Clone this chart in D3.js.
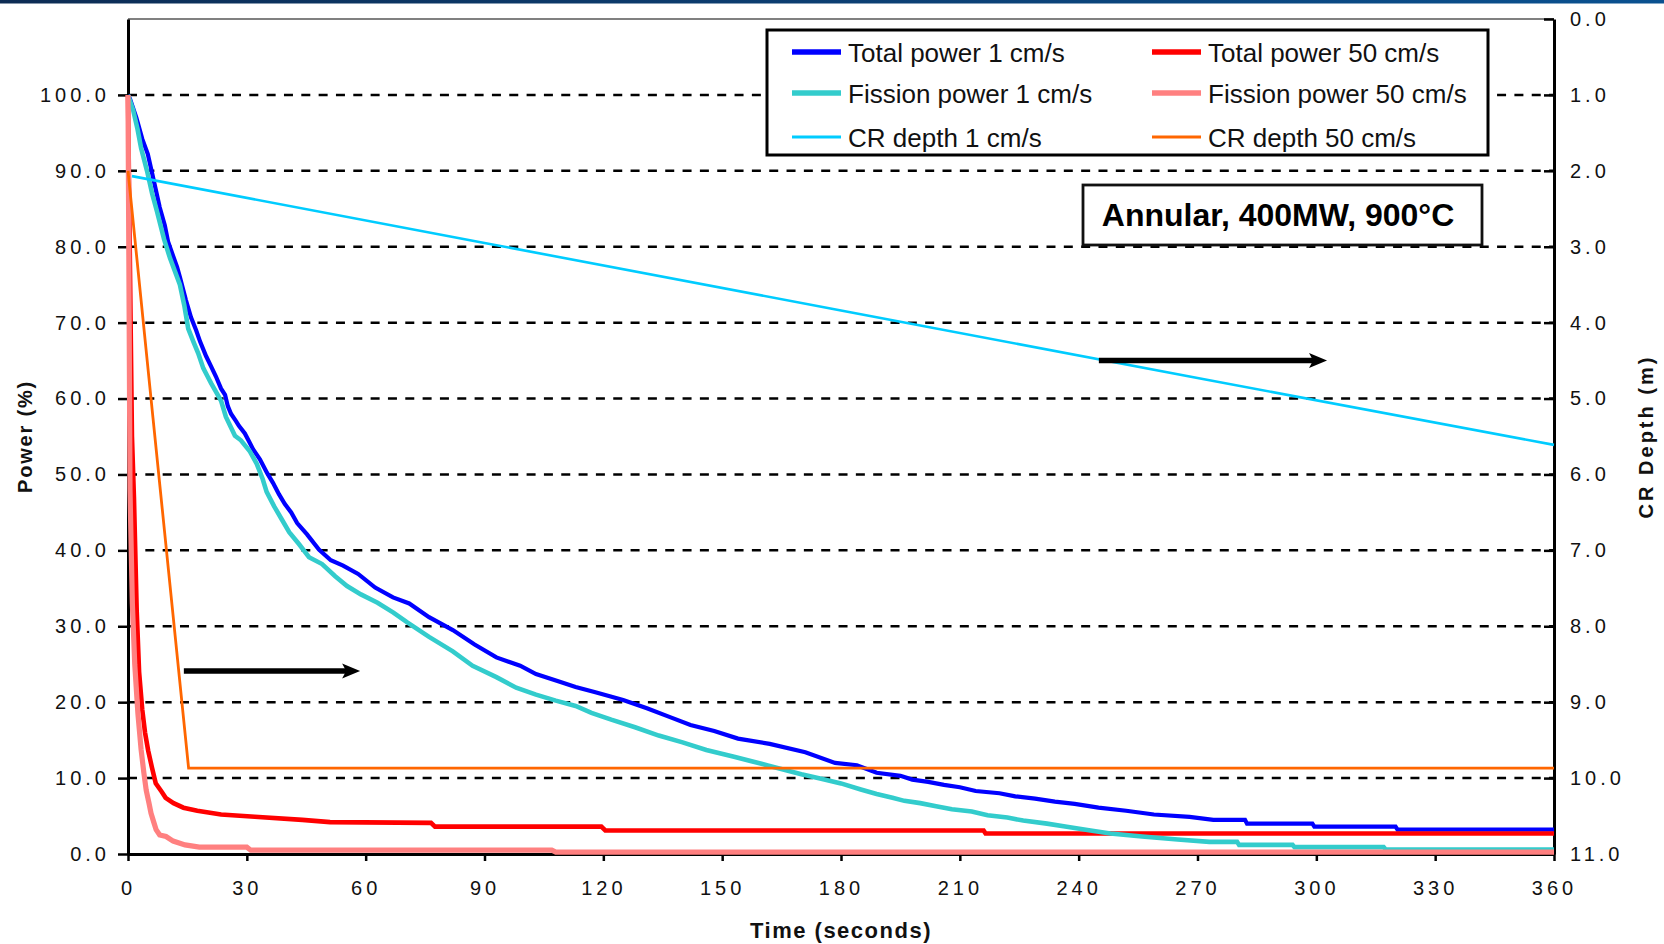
<!DOCTYPE html>
<html>
<head>
<meta charset="utf-8">
<script src="https://cdn.jsdelivr.net/npm/d3@7"></script>
<style>
  html, body { margin: 0; padding: 0; background: #fff; }
  svg { display: block; }
  text { font-family: "Liberation Sans", Arial, Helvetica, sans-serif; }
</style>
</head>
<body>
<svg id="chart" width="1664" height="944"></svg>
<script>
// ---- data: [time (s), value] ----
// Power curves in % (left axis), control-rod depth in m (right axis)
const totalPower1 = [
  [0,100],[0.5,99.5],[2.1,97],[3.6,94.2],[5.0,92.2],[6.6,88.5],[8.0,85.2],[9.3,82.8],
  [10.1,80.7],[10.9,79.5],[12.4,77.3],[13.1,76],[14.6,73],[15.9,70.7],[17.2,69.0],
  [18.2,67.5],[19.7,65.6],[21.0,64.2],[22.2,62.9],[23.5,61.3],[24.5,60.5],[25.2,59.0],
  [26.0,58.0],[27.3,57.0],[28.0,56.4],[29.5,55.4],[30.6,54.3],[31.6,53.3],[33.3,52.0],
  [35.1,50.2],[36.6,48.9],[38.1,47.4],[39.6,46.1],[41.2,45.0],[42.7,43.6],[45.2,42.1],
  [48.2,40.1],[51.2,38.7],[54.3,38.0],[58.1,36.9],[62.4,35.1],[66.9,33.8],[71,33.0],
  [76,31.2],[82,29.5],[87.5,27.6],[93,25.9],[99,24.8],[103,23.7],[109,22.7],[113,22.0],
  [118,21.3],[125,20.3],[131,19.2],[137,18.0],[142,17.0],[148,16.2],[154,15.2],[162,14.5],
  [171,13.4],[178.5,12.0],[184,11.7],[189,10.7],[195,10.3],[198,9.8],[202,9.5],[206,9.1],
  [210,8.8],[214,8.3],[220,8.0],[224,7.6],[229,7.3],[234,6.9],[239,6.6],[245,6.1],
  [252,5.7],[259,5.2],[268,4.9],[274,4.5],[282,4.5],[282.5,4.0],[299,4.0],[299.5,3.6],
  [320,3.6],[320.5,3.2],[360,3.2]
];
const fissionPower1 = [
  [0,100],[1.3,98],[2.4,95.5],[3.3,93],[4.8,90],[6.1,87],[7.3,84.7],[9.1,81],[10.6,78.5],
  [13.1,75],[14.2,72.3],[15.2,69.2],[16.5,67.5],[17.7,66],[19,64],[20,63],[21,62],
  [22.4,60.7],[23.5,59.7],[24.7,57.6],[27,55.1],[28.5,54.5],[30.7,53.1],[32.5,51.4],
  [34,49.4],[35,47.7],[36.9,45.8],[38.8,44.1],[40.7,42.4],[43.2,40.8],[45.7,39.1],
  [49,38.2],[52.3,36.6],[55.3,35.3],[58.8,34.2],[63,33.1],[67,31.8],[70.5,30.5],
  [76,28.6],[82,26.7],[87,24.8],[93,23.3],[98,21.9],[103,21],[108,20.2],[113,19.5],
  [117,18.6],[122,17.7],[128,16.7],[134,15.6],[140,14.7],[146,13.7],[153,12.8],
  [162,11.6],[170,10.5],[175,9.9],[180,9.3],[185,8.5],[189,7.9],[193,7.4],[196,7.0],
  [200,6.7],[204,6.3],[208,5.9],[213,5.6],[217,5.1],[222,4.8],[226,4.4],[232,4.0],
  [237,3.6],[243,3.1],[248,2.7],[256,2.3],[265,1.9],[273,1.6],[280,1.6],[280.5,1.2],
  [294,1.2],[294.5,0.9],[317,0.9],[317.5,0.6],[360,0.6]
];
const totalPower50 = [
  [0,100],[0.5,77],[1.0,55],[1.5,47],[2.2,32],[2.8,24],[3.6,19],[4.3,16],[5.1,13.6],
  [6.0,11.5],[7.0,9.3],[8.5,8.2],[9.5,7.4],[11.5,6.7],[14,6.1],[17.5,5.7],[23.5,5.2],
  [32,4.9],[44,4.5],[51,4.2],[76.5,4.1],[77.5,3.6],[119.5,3.6],[120.5,3.1],[216,3.1],
  [216.5,2.7],[360,2.7]
];
const fissionPower50 = [
  [0,100],[0.3,70],[0.5,48],[1.1,33],[1.7,25],[2.5,18.5],[3.3,13.8],[4.0,10.7],[4.6,8.4],
  [5.3,6.7],[5.8,5.4],[6.5,4.2],[7.1,3.2],[8.0,2.5],[9.6,2.3],[11.4,1.7],[14.4,1.2],
  [18,0.9],[30,0.9],[31,0.5],[107,0.5],[108,0.25],[360,0.25]
];
const crDepth1 = [[1,2.07],[90,2.95],[180,3.84],[270,4.73],[360,5.61]];
const crDepth50 = [[0,2.0],[6.3,5.25],[15.3,9.87],[360,9.87]];

// axis ticks
const timeTicks = [0,30,60,90,120,150,180,210,240,270,300,330,360];
const powerTicks = [0,10,20,30,40,50,60,70,80,90,100];
const depthTicks = [0,1,2,3,4,5,6,7,8,9,10,11];

// arrows pointing at the right-hand axis: [t0, t1, value]
const arrowsLeft = [[14.1, 58.6, 24.1]];   // in power units
const arrowsRight = [[245.1, 302.7, 4.5]]; // in depth units

const series = [
  { name: "Total power 1 cm/s",    data: totalPower1,    axis: "P", color: "#0000FF", width: 4.2, col: 0, row: 0 },
  { name: "Total power 50 cm/s",   data: totalPower50,   axis: "P", color: "#FF0000", width: 4.6, col: 1, row: 0 },
  { name: "Fission power 1 cm/s",  data: fissionPower1,  axis: "P", color: "#33CCCC", width: 4.6, col: 0, row: 1 },
  { name: "Fission power 50 cm/s", data: fissionPower50, axis: "P", color: "#FF8080", width: 5.2, col: 1, row: 1 },
  { name: "CR depth 1 cm/s",       data: crDepth1,       axis: "D", color: "#00CCFF", width: 2.6, col: 0, row: 2 },
  { name: "CR depth 50 cm/s",      data: crDepth50,      axis: "D", color: "#FF6600", width: 2.8, col: 1, row: 2 }
];

// ---- layout ----
const plot = { left: 128, right: 1554, top: 19, bottom: 854 };
const svg = d3.select("#chart");

const x = d3.scaleLinear().domain([0, 360]).range([plot.left, plot.right]);
const yP = d3.scaleLinear().domain([0, 110]).range([plot.bottom, plot.top]);
const yD = d3.scaleLinear().domain([0, 11]).range([plot.top, plot.bottom]);

// navy band along the top edge
const defs = svg.append("defs");
const grad = defs.append("linearGradient").attr("id", "band").attr("x1", "0").attr("x2", "1");
grad.append("stop").attr("offset", "0").attr("stop-color", "#0d2c54");
grad.append("stop").attr("offset", "1").attr("stop-color", "#0a5190");
svg.append("rect").attr("x", 0).attr("y", 0).attr("width", 1664).attr("height", 3.5)
  .attr("fill", "url(#band)");

// dashed horizontal gridlines
svg.append("g").selectAll("line")
  .data(powerTicks.filter(v => v > 0))
  .join("line")
  .attr("x1", plot.left).attr("x2", plot.right)
  .attr("y1", d => yP(d)).attr("y2", d => yP(d))
  .attr("stroke", "#000").attr("stroke-width", 2.5)
  .attr("stroke-dasharray", "9,8.33");

// grey top border of the plot area
svg.append("line")
  .attr("x1", plot.left).attr("x2", plot.right)
  .attr("y1", plot.top).attr("y2", plot.top)
  .attr("stroke", "#808080").attr("stroke-width", 2);

// ---- axes ----
const tickFont = g => g.selectAll("text")
  .attr("font-size", 20).attr("fill", "#111")
  .attr("letter-spacing", 4)
  .style("font-family", '"Liberation Sans", Arial, sans-serif');
const axisStyle = g => {
  g.select(".domain").attr("stroke", "#000").attr("stroke-width", 3);
  g.selectAll(".tick line").attr("stroke", "#000").attr("stroke-width", 2.5);
};

svg.append("g")
  .attr("transform", `translate(${plot.left},0)`)
  .call(d3.axisLeft(yP).tickValues(powerTicks).tickFormat(d3.format(".1f"))
    .tickSize(10).tickSizeOuter(0).tickPadding(8))
  .call(axisStyle).call(tickFont);

svg.append("g")
  .attr("transform", `translate(0,${plot.bottom})`)
  .call(d3.axisBottom(x).tickValues(timeTicks).tickFormat(d3.format("d"))
    .tickSize(7).tickSizeOuter(0).tickPadding(20))
  .call(axisStyle).call(tickFont);

svg.append("g")
  .attr("transform", `translate(${plot.right},0)`)
  .call(d3.axisRight(yD).tickValues(depthTicks).tickFormat(d3.format(".1f"))
    .tickSize(-10).tickSizeOuter(0).tickPadding(16))
  .call(axisStyle).call(tickFont);

// ---- series ----
const lineP = d3.line().x(d => x(d[0])).y(d => yP(d[1]));
const lineD = d3.line().x(d => x(d[0])).y(d => yD(d[1]));

svg.append("g").selectAll("path")
  .data(series)
  .join("path")
  .attr("d", s => (s.axis === "P" ? lineP : lineD)(s.data))
  .attr("fill", "none")
  .attr("stroke", s => s.color)
  .attr("stroke-width", s => s.width)
  .attr("stroke-linejoin", "miter")
  .attr("stroke-linecap", "butt");

// ---- arrows ----
function drawArrow(x0, x1, yv) {
  const g = svg.append("g");
  g.append("line").attr("x1", x0).attr("x2", x1 - 14).attr("y1", yv).attr("y2", yv)
    .attr("stroke", "#000").attr("stroke-width", 5.5);
  g.append("path")
    .attr("d", `M${x1 - 18},${yv - 7.5} L${x1},${yv} L${x1 - 18},${yv + 7.5} L${x1 - 14},${yv} Z`)
    .attr("fill", "#000");
}
arrowsLeft.forEach(a => drawArrow(x(a[0]), x(a[1]), yP(a[2])));
arrowsRight.forEach(a => drawArrow(x(a[0]), x(a[1]), yD(a[2])));

// ---- legend ----
const legend = svg.append("g");
legend.append("rect")
  .attr("x", 767).attr("y", 30).attr("width", 721).attr("height", 125)
  .attr("fill", "#fff").attr("stroke", "#000").attr("stroke-width", 3);
const colX = [792, 1152];
const rowY = [52, 93, 137];
const items = legend.selectAll("g.item").data(series).join("g").attr("class", "item");
items.append("line")
  .attr("x1", s => colX[s.col]).attr("x2", s => colX[s.col] + 49)
  .attr("y1", s => rowY[s.row]).attr("y2", s => rowY[s.row])
  .attr("stroke", s => s.color)
  .attr("stroke-width", s => s.axis === "P" ? 5.5 : 3);
items.append("text")
  .attr("x", s => colX[s.col] + 56)
  .attr("y", s => rowY[s.row] + 10)
  .attr("font-size", 26).attr("fill", "#111")
  .text(s => s.name);

// ---- case label ----
svg.append("rect")
  .attr("x", 1083).attr("y", 185).attr("width", 399).attr("height", 60)
  .attr("fill", "#fff").attr("stroke", "#111").attr("stroke-width", 2.8);
svg.append("text")
  .attr("x", 1278).attr("y", 226)
  .attr("text-anchor", "middle")
  .attr("font-size", 32).attr("font-weight", "bold").attr("fill", "#000")
  .text("Annular, 400MW, 900°C");

// ---- axis titles ----
svg.append("text")
  .attr("transform", `translate(32,${(plot.top + plot.bottom) / 2}) rotate(-90)`)
  .attr("text-anchor", "middle")
  .attr("font-size", 20).attr("font-weight", "bold").attr("letter-spacing", 1.8)
  .attr("fill", "#111")
  .text("Power (%)");

svg.append("text")
  .attr("transform", `translate(1653,${(plot.top + plot.bottom) / 2}) rotate(-90)`)
  .attr("text-anchor", "middle")
  .attr("font-size", 20).attr("font-weight", "bold").attr("letter-spacing", 3)
  .attr("fill", "#111")
  .text("CR Depth (m)");

svg.append("text")
  .attr("x", (plot.left + plot.right) / 2).attr("y", 938)
  .attr("text-anchor", "middle")
  .attr("font-size", 22).attr("font-weight", "bold").attr("letter-spacing", 1.5)
  .attr("fill", "#111")
  .text("Time (seconds)");
</script>
</body>
</html>
